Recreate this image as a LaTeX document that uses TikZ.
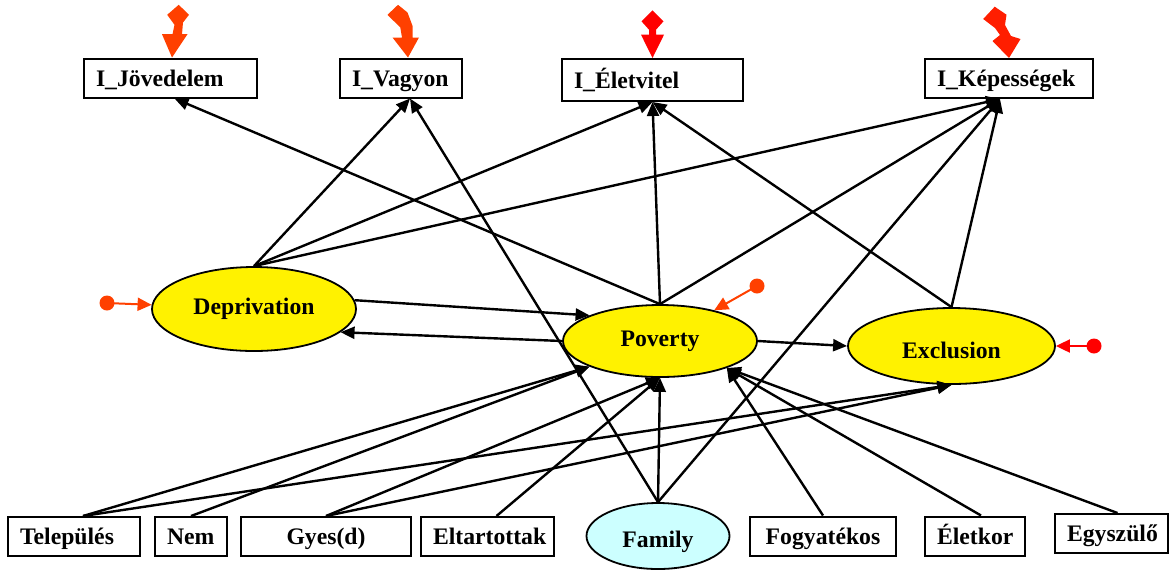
\documentclass[tikz,border=0pt]{standalone}
\usepackage{fontspec}
\setmainfont{Liberation Serif}
\usetikzlibrary{arrows.meta,shapes.geometric}
\definecolor{orred}{RGB}{255,64,0}
\definecolor{boltred}{RGB}{255,30,0}
\definecolor{famcyan}{RGB}{204,255,255}
\begin{document}
\begin{tikzpicture}[x=0.5pt,y=-0.5pt,
  font=\fontsize{11.85}{14}\selectfont\bfseries,
  box/.style={draw, line width=1pt, inner sep=0pt, minimum height=19.5pt,
    text height=9.5pt, text depth=1.5pt},
  lbox/.style={draw, line width=1pt, inner xsep=6pt, inner ysep=0pt,
    minimum height=19.5pt, text width=#1, align=left,
    text height=9.5pt, text depth=1.5pt},
  ell/.style={ellipse, draw, line width=0.9pt, fill=yellow, inner sep=0pt},
  arr/.style={line width=1.2pt, -{Triangle[length=7pt,width=6pt]}},
  err/.style={line width=1pt, -{Triangle[length=7pt,width=6.5pt]}},
  dot/.style={circle, fill, inner sep=0pt, minimum size=7.5pt}
]
\useasboundingbox (0,0) rectangle (1171,569);

% top indicator boxes
\node[lbox=74.5pt] (jov) at (170.5,78) {I\_Jövedelem};
\node[lbox=49pt] (vag) at (401,78) {I\_Vagyon};
\node[lbox=78.5pt, minimum height=21pt] (ele) at (652.5,80) {I\_Életvitel};
\node[lbox=72pt] (kep) at (1009,78.5) {I\_Képességek};

% latent ellipses
\node[ell, minimum width=102pt, minimum height=42pt] (dep) at (254,309) {Deprivation};
\node[ell, minimum width=97pt, minimum height=36pt] (pov) at (660,341) {Poverty};
\node[ell, minimum width=103.5pt, minimum height=38pt,
      text height=12pt, text depth=0pt] (exc) at (951.5,346) {Exclusion};

% bottom row
\node[lbox=54pt] (tel) at (74,536.5) {Település};
\node[lbox=24pt] (nem) at (191,536.5) {Nem};
\node[box, minimum width=85pt] (gyes) at (326,536.5) {Gyes(d)};
\node[lbox=54.5pt] (elt) at (487.5,536.5) {Eltartottak};
\node[ellipse, draw, line width=0.9pt, fill=famcyan, inner sep=0pt,
      minimum width=71.5pt, minimum height=33pt,
      text height=11pt, text depth=0pt] (fam) at (658,536) {Family};
\node[box, minimum width=73pt] (fog) at (823,536) {Fogyatékos};
\node[lbox=38pt] (kor) at (975,536) {Életkor};
\node[lbox=44.5pt] (egy) at (1111.5,533.5) {Egyszülő};

% arrows to indicators
\draw[arr] (dep.north) -- ([xshift=4.5pt]vag.south);
\draw[arr] (dep.north) -- (ele.south);
\draw[arr] (dep.north) -- ([xshift=-4.5pt]kep.south);
\draw[arr] (pov.north) -- ([xshift=2pt]jov.south);
\draw[arr] (pov.north) -- (ele.south);
\draw[arr] (pov.north) -- ([xshift=-4.5pt]kep.south);
\draw[arr] (exc.north) -- (ele.south);
\draw[arr] (exc.north) -- ([xshift=-4.5pt]kep.south);
\draw[arr] (fam.north) -- ([xshift=4.5pt]vag.south);
\draw[arr] (fam.north) -- ([xshift=-4.5pt]kep.south);

% latent paths
\draw[arr] (dep.5) -- (pov.160);
\draw[arr] (pov.west) -- (dep.345);
\draw[arr] (pov.east) -- (exc.west);

% causes
\draw[arr] (fam.north) -- (pov.south);
\draw[arr] ([xshift=4.5pt]tel.north) -- (pov.200);
\draw[arr] ([xshift=4.5pt]tel.north) -- (exc.south);
\draw[arr] (nem.north) -- (pov.200);
\draw[arr] (gyes.north) -- (pov.south);
\draw[arr] (gyes.north) -- (exc.south);
\draw[arr] ([xshift=4.5pt]elt.north) -- (pov.south);
\draw[arr] (fog.north) -- (pov.338);
\draw[arr] ([xshift=3pt]kor.north) -- (pov.338);
\draw[arr] ([xshift=3pt]egy.north) -- (pov.338);

% error terms
\coordinate (ed) at (107,303);
\coordinate (ep) at (757,286);
\coordinate (ex) at (1094,346);
\node[dot, orred] (edd) at (ed) {};
\node[dot, orred] (epd) at (ep) {};
\node[dot, red] (exd) at (ex) {};
\draw[err, orred] (ed) -- (dep);
\draw[err, orred] (ep) -- (pov);
\draw[err, red] (ex) -- (exc);

% lightning arrows
\fill[orred, shift={([xshift=0.75pt]jov.north)}]
  (6.7,-52.7) -- (17,-42.7) -- (11,-35) -- (10,-23.3) -- (15.5,-23.3) -- (0,0)
  -- (-10,-23.3) -- (0.5,-23.3) -- (2.5,-32.7) -- (-4.8,-42.7) -- cycle;
\fill[orred, shift={([xshift=3.5pt]vag.north)}]
  (-10,-52.7) -- (-0.5,-45) -- (4.5,-31.7) -- (4.5,-20) -- (11,-20) -- (0,0)
  -- (-15.5,-20) -- (-6,-20) -- (-7.7,-30) -- (-20.5,-42.7) -- cycle;
\fill[red, shift={(ele.north)}]
  (0,-47.7) -- (11,-36.7) -- (3.5,-28.3) -- (3.5,-23.3) -- (11.5,-23.3) -- (0,0)
  -- (-11.5,-23.3) -- (-3.5,-23.3) -- (-3.5,-28.3) -- (-11,-36.7) -- cycle;
\fill[boltred, shift={(kep.north)}]
  (-14.3,-51.3) -- (-2.5,-43.3) -- (-4,-33) -- (2,-22) -- (11.5,-19) -- (0,0)
  -- (-16.5,-17) -- (-9,-23) -- (-14,-30) -- (-25.8,-39) -- cycle;
\end{tikzpicture}
\end{document}
